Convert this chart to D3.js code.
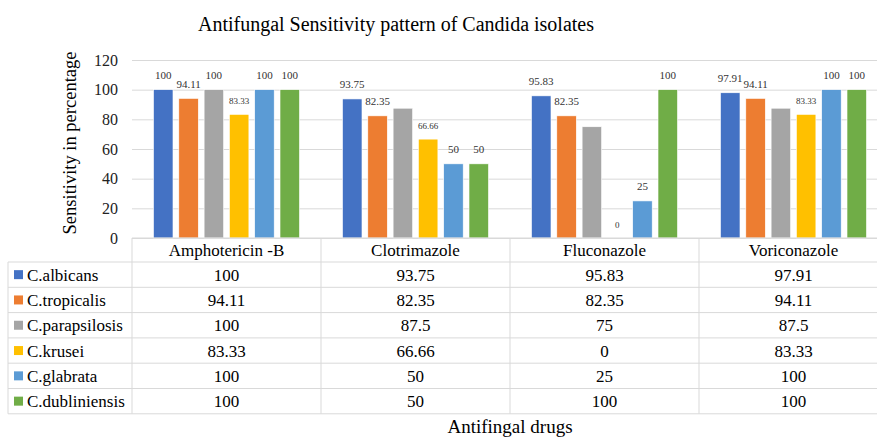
<!DOCTYPE html>
<html>
<head>
<meta charset="utf-8">
<script src="https://cdn.jsdelivr.net/npm/d3@7"></script>
<style>
  body { margin: 0; background: #fff; }
  svg { display: block; }
  svg text { font-family: "Liberation Serif", "Times New Roman", serif; }
</style>
</head>
<body>
<svg></svg>
<script>
// chart data
const drugs = ['Amphotericin -B', 'Clotrimazole', 'Fluconazole', 'Voriconazole']
const species = ['C.albicans', 'C.tropicalis', 'C.parapsilosis', 'C.krusei', 'C.glabrata', 'C.dubliniensis']
const albicans = [100, 93.75, 95.83, 97.91]
const tropicalis = [94.11, 82.35, 82.35, 94.11]
const parapsilosis = [100, 87.5, 75, 87.5]
const krusei = [83.33, 66.66, 0, 83.33]
const glabrata = [100, 50, 25, 100]
const dubliniensis = [100, 50, 100, 100]
const yTicks = [0, 20, 40, 60, 80, 100, 120]
// bars whose value label is not shown in the original
const hiddenLabels = [['C.parapsilosis', 'Clotrimazole'], ['C.parapsilosis', 'Fluconazole'], ['C.parapsilosis', 'Voriconazole']]

const colors = ['#4472C4', '#ED7D31', '#A5A5A5', '#FFC000', '#5B9BD5', '#70AD47']
const seriesValues = [albicans, tropicalis, parapsilosis, krusei, glabrata, dubliniensis]

const serif = '"Liberation Serif", "Times New Roman", serif'
const width = 877
const height = 438
const plotLeft = 132
const plotRight = 888
const plotTop = 60
const plotBottom = 238
const headerH = 24
const rowH = 25.3
const legendLeft = 8
const lineColor = '#d9d9d9'

let svg = d3.select('svg')
    .attr('width', width)
    .attr('height', height)
    .attr('font-family', serif)

let xScale = d3.scaleBand()
    .domain(drugs)
    .range([plotLeft, plotRight])

let xInner = d3.scaleBand()
    .domain(species)
    .range([0, xScale.bandwidth()])
    .paddingInner(0.23)
    .paddingOuter(0.85)

let yScale = d3.scaleLinear()
    .domain([0, 120])
    .range([plotBottom, plotTop])

// title
svg.append('text')
    .attr('x', 396)
    .attr('y', 31)
    .attr('text-anchor', 'middle')
    .attr('font-family', serif)
    .attr('font-size', 20)
    .attr('fill', '#000')
    .text('Antifungal Sensitivity pattern of Candida isolates')

// gridlines + y labels
let yAxis = d3.axisLeft(yScale)
    .tickValues(yTicks)
    .tickSize(-(plotRight - plotLeft))
    .tickPadding(14)

let yg = svg.append('g')
    .attr('transform', 'translate(' + plotLeft + ',0)')
    .call(yAxis)
    .attr('font-family', serif)
yg.select('.domain').remove()
yg.selectAll('.tick line').attr('stroke', lineColor)
yg.selectAll('.tick text')
    .attr('font-size', 16)
    .attr('font-family', serif)
    .attr('fill', '#222')

// y title
svg.append('text')
    .attr('transform', 'translate(76,143) rotate(-90)')
    .attr('text-anchor', 'middle')
    .attr('font-family', serif)
    .attr('font-size', 18.5)
    .attr('fill', '#000')
    .text('Sensitivity in percentage')

// bars
let rows = []
species.forEach((s, i) => {
    drugs.forEach((d, j) => {
        rows.push({ species: s, drug: d, value: seriesValues[i][j], color: colors[i] })
    })
})

svg.selectAll('rect.bar')
    .data(rows)
    .enter()
    .append('rect')
    .attr('class', 'bar')
    .attr('x', d => xScale(d.drug) + xInner(d.species))
    .attr('y', d => yScale(d.value))
    .attr('width', xInner.bandwidth())
    .attr('height', d => plotBottom - yScale(d.value))
    .attr('fill', d => d.color)
    .attr('stroke', '#fff')
    .attr('stroke-width', 0.6)

// value labels
let isHidden = d => hiddenLabels.some(h => h[0] === d.species && h[1] === d.drug)

svg.selectAll('text.label')
    .data(rows.filter(d => !isHidden(d)))
    .enter()
    .append('text')
    .attr('class', 'label')
    .attr('x', d => xScale(d.drug) + xInner(d.species) + xInner.bandwidth() / 2)
    .attr('y', d => yScale(d.value) - 10.5)
    .attr('text-anchor', 'middle')
    .attr('font-family', serif)
    .attr('font-size', d => d.species === 'C.krusei' ? 9 : 11)
    .attr('fill', '#333')
    .text(d => d.value)

// data table
let tableBottom = plotBottom + headerH + rowH * species.length
let tg = svg.append('g')

// horizontal lines
tg.append('line')
    .attr('x1', plotLeft).attr('x2', plotRight)
    .attr('y1', plotBottom).attr('y2', plotBottom)
    .attr('stroke', lineColor)
d3.range(species.length + 1).forEach(i => {
    let y = plotBottom + headerH + i * rowH
    tg.append('line')
        .attr('x1', legendLeft).attr('x2', plotRight)
        .attr('y1', y).attr('y2', y)
        .attr('stroke', lineColor)
})
// vertical lines
tg.append('line')
    .attr('x1', legendLeft).attr('x2', legendLeft)
    .attr('y1', plotBottom + headerH).attr('y2', tableBottom)
    .attr('stroke', lineColor)
drugs.concat(['end']).forEach((d, j) => {
    let x = plotLeft + j * xScale.bandwidth()
    tg.append('line')
        .attr('x1', x).attr('x2', x)
        .attr('y1', plotBottom).attr('y2', tableBottom)
        .attr('stroke', lineColor)
})

// header
tg.selectAll('text.head')
    .data(drugs)
    .enter()
    .append('text')
    .attr('class', 'head')
    .attr('x', d => xScale(d) + xScale.bandwidth() / 2)
    .attr('y', plotBottom + headerH / 2)
    .attr('dy', '0.35em')
    .attr('text-anchor', 'middle')
    .attr('font-family', serif)
    .attr('font-size', 17)
    .attr('fill', '#000')
    .text(d => d)

// legend column + cells
species.forEach((s, i) => {
    let cy = plotBottom + headerH + i * rowH + rowH / 2
    tg.append('rect')
        .attr('x', 14).attr('y', cy - 4.5)
        .attr('width', 9).attr('height', 9)
        .attr('fill', colors[i])
    tg.append('text')
        .attr('x', 27).attr('y', cy)
        .attr('dy', '0.35em')
        .attr('font-family', serif)
        .attr('font-size', 17)
        .attr('fill', '#000')
        .text(s)
    drugs.forEach((d, j) => {
        tg.append('text')
            .attr('x', xScale(d) + xScale.bandwidth() / 2)
            .attr('y', cy)
            .attr('dy', '0.35em')
            .attr('text-anchor', 'middle')
            .attr('font-family', serif)
            .attr('font-size', 17)
            .attr('fill', '#000')
            .text(seriesValues[i][j])
    })
})

// x title
svg.append('text')
    .attr('x', 510)
    .attr('y', 433)
    .attr('text-anchor', 'middle')
    .attr('font-family', serif)
    .attr('font-size', 19)
    .attr('fill', '#000')
    .text('Antifingal drugs')
</script>
</body>
</html>
